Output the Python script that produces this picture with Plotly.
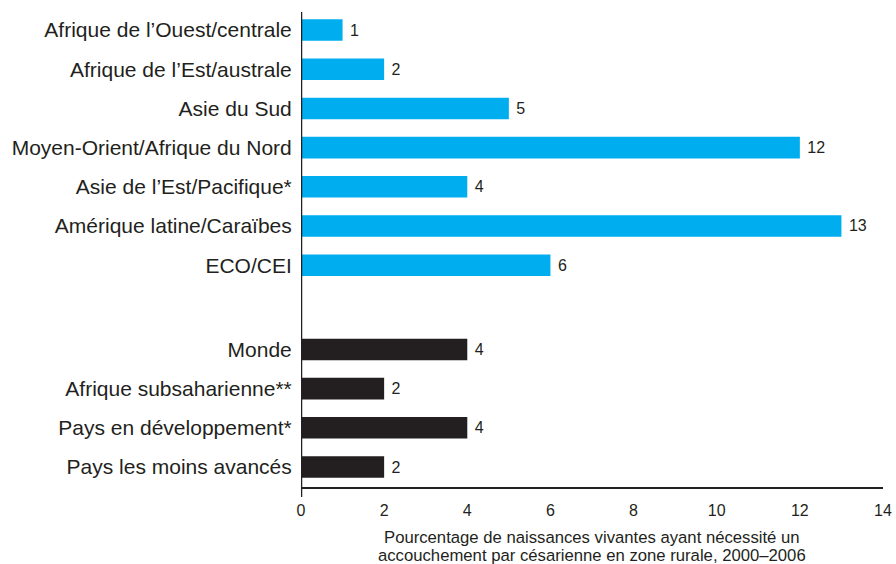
import plotly.graph_objects as go

regions = ["Afrique de l’Ouest/centrale", "Afrique de l’Est/australe", "Asie du Sud",
           "Moyen-Orient/Afrique du Nord", "Asie de l’Est/Pacifique*",
           "Amérique latine/Caraïbes", "ECO/CEI"]
region_values = [1, 2, 5, 12, 4, 13, 6]

aggregates = ["Monde", "Afrique subsaharienne**", "Pays en développement*", "Pays les moins avancés"]
aggregate_values = [4, 2, 4, 2]

x_ticks = [0, 2, 4, 6, 8, 10, 12, 14]
x_title_lines = ["Pourcentage de naissances vivantes ayant nécessité un",
                 "accouchement par césarienne en zone rurale, 2000–2006"]

BLUE = "#00AEEF"
DARK = "#231F20"
GAP = 2.15

W, H = 896, 564
ML, MR, MT, MB = 301, 13, 12, 77
PH = H - MT - MB

pos_regions = list(range(len(regions)))
pos_aggr = [len(regions) - 1 + GAP + i for i in range(len(aggregates))]

fig = go.Figure()
fig.add_trace(go.Bar(
    y=pos_regions, x=region_values, orientation="h", width=0.55,
    marker=dict(color=BLUE, line=dict(width=0)),
    text=[" " + str(v) for v in region_values], textposition="outside",
    textfont=dict(size=16, color=DARK), cliponaxis=False))
fig.add_trace(go.Bar(
    y=pos_aggr, x=aggregate_values, orientation="h", width=0.55,
    marker=dict(color=DARK, line=dict(width=0)),
    text=[" " + str(v) for v in aggregate_values], textposition="outside",
    textfont=dict(size=16, color=DARK), cliponaxis=False))

fig.add_shape(type="line", xref="x", yref="paper", x0=0, x1=0, y0=-10 / PH, y1=1,
              line=dict(color=DARK, width=2.5))

for i, line in enumerate(x_title_lines):
    fig.add_annotation(text=line, xref="paper", yref="paper", x=0.5,
                       y=-(50 + 18 * i) / PH, xanchor="center", yanchor="middle",
                       showarrow=False, font=dict(size=16.7, color=DARK))

fig.update_layout(
    width=W, height=H,
    margin=dict(l=ML, r=MR, t=MT, b=MB),
    paper_bgcolor="white", plot_bgcolor="white",
    showlegend=False,
    font=dict(family="Liberation Sans, Arial, sans-serif", color=DARK),
    xaxis=dict(range=[0, 14], tickvals=x_ticks, showgrid=False, zeroline=False,
               showline=True, linecolor=DARK, linewidth=2,
               ticks="outside", ticklen=8, tickcolor="rgba(0,0,0,0)", automargin=False,
               tickfont=dict(size=16)),
    yaxis=dict(range=[pos_aggr[-1] + 0.51, -0.46], tickvals=pos_regions + pos_aggr,
               ticktext=regions + aggregates, showgrid=False, zeroline=False,
               showline=False, ticks="outside", ticklen=4, tickcolor="rgba(0,0,0,0)",
               automargin=False, tickfont=dict(size=21)),
)

fig.write_html("out.html", post_script="document.body.style.margin='0';",
               config={"displayModeBar": False})
